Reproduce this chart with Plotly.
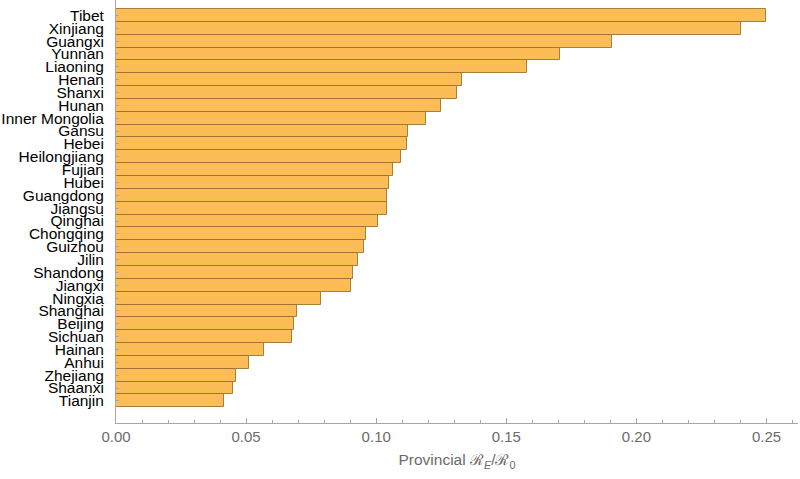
import plotly.graph_objects as go

# Provinces from top to bottom, and their provincial R_E / R_0 ratio
provinces = [
    'Tibet', 'Xinjiang', 'Guangxi', 'Yunnan', 'Liaoning', 'Henan', 'Shanxi',
    'Hunan', 'Inner Mongolia', 'Gansu', 'Hebei', 'Heilongjiang', 'Fujian',
    'Hubei', 'Guangdong', 'Jiangsu', 'Qinghai', 'Chongqing', 'Guizhou',
    'Jilin', 'Shandong', 'Jiangxi', 'Ningxia', 'Shanghai', 'Beijing',
    'Sichuan', 'Hainan', 'Anhui', 'Zhejiang', 'Shaanxi', 'Tianjin',
]
ratios = [
    0.2497, 0.2402, 0.1906, 0.1706, 0.1580, 0.1331, 0.1310,
    0.1250, 0.1191, 0.1121, 0.1118, 0.1096, 0.1066,
    0.1050, 0.1041, 0.1040, 0.1005, 0.0962, 0.0952,
    0.0930, 0.0912, 0.0904, 0.0788, 0.0697, 0.0683,
    0.0676, 0.0569, 0.0513, 0.0461, 0.0450, 0.0415,
]

AXIS_GRAY = '#a6a6a6'
LABEL_GRAY = '#6b6b6b'
FONT = 'Liberation Sans, Arial, sans-serif'

fig = go.Figure(go.Bar(
    x=ratios, y=provinces, orientation='h',
    marker=dict(color='#fdbd56',
                line=dict(color='rgba(150,110,45,0.85)', width=1)),
))

fig.update_layout(
    width=800, height=479,
    margin=dict(l=116, r=2, t=0, b=56),
    paper_bgcolor='white', plot_bgcolor='white',
    bargap=0,
    showlegend=False,
    font=dict(family=FONT),
    xaxis=dict(
        range=[0, 0.2621], automargin=False,
        dtick=0.05, tick0=0, tickformat='.2f',
        ticks='inside', ticklen=5, tickwidth=1, tickcolor=AXIS_GRAY,
        minor=dict(dtick=0.01, ticks='inside', ticklen=3, tickcolor=AXIS_GRAY),
        showline=True, linecolor=AXIS_GRAY, linewidth=1,
        showgrid=False, zeroline=False,
        tickfont=dict(size=15, color=LABEL_GRAY),
        title=dict(text='Provincial ℛ<sub><i>E</i></sub>/ℛ<sub>0</sub>',
                   font=dict(size=15.5, color=LABEL_GRAY), standoff=10),
    ),
    yaxis=dict(
        type='category', automargin=False,
        categoryorder='array', categoryarray=provinces,
        tickmode='linear', tick0=0, dtick=1,
        range=[31.72, -1.2],
        ticks='inside', ticklen=3, tickwidth=1, tickcolor=AXIS_GRAY,
        ticklabelstandoff=8,
        showline=True, linecolor=AXIS_GRAY, linewidth=1,
        showgrid=False, zeroline=False,
        tickfont=dict(size=15.5, color='black'),
    ),
)

# drop the browser's default body margin so the figure sits at the page corner
fig.write_html("out.html", config={'displayModeBar': False},
               post_script="document.body.style.margin='0';")
